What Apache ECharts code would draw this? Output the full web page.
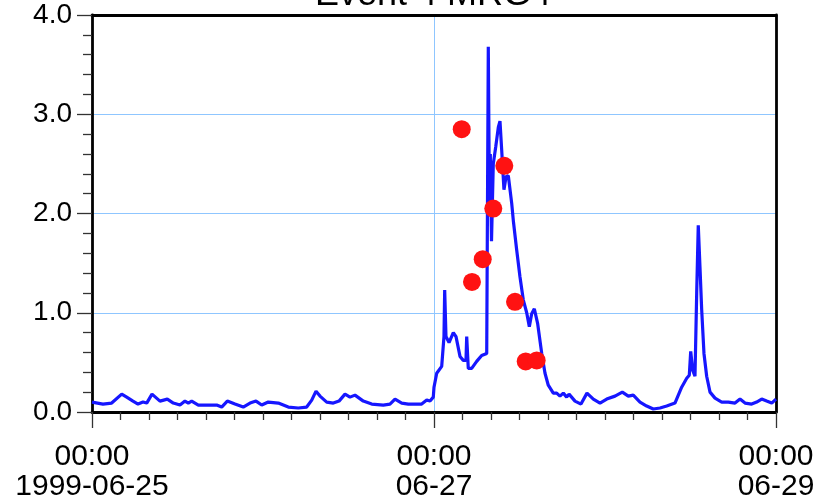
<!DOCTYPE html>
<html>
<head>
<meta charset="utf-8">
<script src="https://cdn.jsdelivr.net/npm/echarts@6/dist/echarts.min.js"></script>
<style>html,body{margin:0;padding:0;background:#fff;}#c{width:831px;height:498px;}</style>
</head>
<body>
<div id="c"></div>
<script>
// Hours since 1999-06-25 00:00 and flow values (blue line)
const lineHours = [0.00,0.18,1.54,2.76,4.17,4.87,5.75,6.46,7.16,7.68,8.42,9.54,10.57,11.41,12.35,13.05,13.52,13.99,14.92,16.10,17.50,18.20,18.99,20.07,21.23,22.18,23.02,23.82,24.74,26.15,27.55,28.95,30.13,30.84,31.44,32.00,32.94,33.87,34.67,35.51,36.21,36.91,38.08,39.26,40.88,41.82,42.53,43.47,44.39,45.33,46.27,46.98,47.44,47.90,48.00,48.38,49.08,49.31,49.40,49.50,49.68,50.11,50.71,51.09,51.65,52.11,52.49,52.59,52.81,53.29,53.99,54.69,55.40,55.51,55.62,55.79,55.90,56.07,56.32,56.66,57.03,57.26,57.50,57.82,58.11,58.43,58.91,59.13,59.61,60.07,60.53,61.01,61.38,61.71,62.08,62.55,63.12,63.58,64.04,64.74,65.22,65.68,66.15,66.62,66.95,67.79,68.63,69.47,70.36,71.30,72.24,73.40,74.43,75.27,75.97,76.91,77.85,78.78,79.72,80.66,81.82,82.76,83.47,83.83,84.03,84.31,84.63,84.87,85.09,85.33,85.57,85.89,86.27,86.74,87.44,88.38,89.31,90.25,90.95,91.65,92.59,93.29,93.99,94.69,95.40,96.00];
const lineValues = [0.10,0.10,0.08,0.09,0.18,0.15,0.11,0.08,0.10,0.09,0.18,0.11,0.13,0.09,0.07,0.11,0.09,0.11,0.07,0.07,0.07,0.05,0.11,0.08,0.05,0.09,0.11,0.07,0.10,0.09,0.05,0.04,0.05,0.12,0.21,0.16,0.10,0.09,0.11,0.18,0.15,0.17,0.11,0.08,0.07,0.08,0.13,0.09,0.08,0.08,0.08,0.12,0.11,0.15,0.25,0.39,0.46,0.47,0.76,1.23,0.76,0.70,0.80,0.76,0.56,0.52,0.52,0.76,0.44,0.44,0.51,0.57,0.59,0.60,3.68,2.00,2.60,1.72,2.50,2.67,2.87,2.93,2.64,2.24,2.37,2.38,2.10,1.93,1.63,1.36,1.13,1.00,0.86,0.99,1.04,0.89,0.59,0.39,0.27,0.19,0.19,0.16,0.19,0.15,0.18,0.11,0.08,0.19,0.13,0.09,0.13,0.16,0.20,0.16,0.17,0.10,0.06,0.03,0.04,0.06,0.09,0.25,0.34,0.37,0.61,0.42,0.36,1.20,1.88,1.46,1.03,0.59,0.36,0.20,0.14,0.10,0.10,0.09,0.13,0.09,0.08,0.10,0.13,0.11,0.09,0.13];
// Observed samples (red dots)
const dotHours = [51.89,53.33,54.84,56.32,57.87,59.37,60.87,62.41];
const dotValues = [2.85,1.31,1.54,2.05,2.48,1.11,0.51,0.52];
// Axis tick labels
const xTickHours = [0,48,96];
const xTickLabels = ['00:00\n1999-06-25','00:00\n06-27','00:00\n06-29'];
const titleText = 'Event 4 MRG4';

const lineData = lineHours.map((h,i)=>[h,lineValues[i]]);
const dotData = dotHours.map((h,i)=>[h,dotValues[i]]);

function borderAxis(extra){
  return Object.assign({type:'value', axisLine:{show:true, onZero:false, lineStyle:{color:'#000', width:2.8}},
    axisTick:{show:false}, axisLabel:{show:false}, splitLine:{show:false}, minorTick:{show:false}}, extra);
}

const chart = echarts.init(document.getElementById('c'), null, {renderer:'canvas'});
chart.setOption({
  animation:false,
  backgroundColor:'#fff',
  title:{text:titleText, left:315, top:-23, padding:0,
    textStyle:{fontSize:36, fontWeight:'normal', color:'#000', fontFamily:'"Liberation Sans", Arial, sans-serif'}},
  grid:{left:92, right:55, top:15, bottom:86, show:false, containLabel:false, outerBoundsMode:'none'},
  xAxis:[{type:'value', min:0, max:96, interval:48,
    axisLine:{show:true, onZero:false, lineStyle:{color:'#000', width:2.8}},
    axisTick:{show:true, length:16, lineStyle:{color:'#333', width:1.3}},
    minorTick:{show:true, splitNumber:12, length:8, lineStyle:{color:'#333', width:1.3}},
    splitLine:{show:true, lineStyle:{color:'#8fc6ff', width:1}},
    axisLabel:{margin:30, fontSize:30, lineHeight:30, color:'#000', fontFamily:'"Liberation Sans Narrow", "Liberation Sans", sans-serif',
      showMinLabel:true, showMaxLabel:true,
      formatter:(v)=>{const i=xTickHours.indexOf(v); return i>=0?xTickLabels[i]:'';}}
  },
  borderAxis({min:0, max:96, position:'top'})],
  yAxis:[{type:'value', min:0, max:4, interval:1,
    axisLine:{show:true, onZero:false, lineStyle:{color:'#000', width:2.8}},
    axisTick:{show:true, length:15, lineStyle:{color:'#333', width:1.3}},
    minorTick:{show:true, splitNumber:5, length:9, lineStyle:{color:'#333', width:1.3}},
    splitLine:{show:true, lineStyle:{color:'#8fc6ff', width:1}},
    axisLabel:{margin:20, fontSize:28, color:'#000', fontFamily:'"Liberation Sans", Arial, sans-serif',
      formatter:(v)=>v.toFixed(1)}
  },
  borderAxis({min:0, max:4, position:'right'})],
  series:[
    {type:'line', data:lineData, showSymbol:false, symbol:'none', lineStyle:{color:'#1616ff', width:3.2}, z:3},
    {type:'scatter', data:dotData, symbolSize:18, itemStyle:{color:'#ff1212', opacity:1}, z:4}
  ]
});
</script>
</body>
</html>
